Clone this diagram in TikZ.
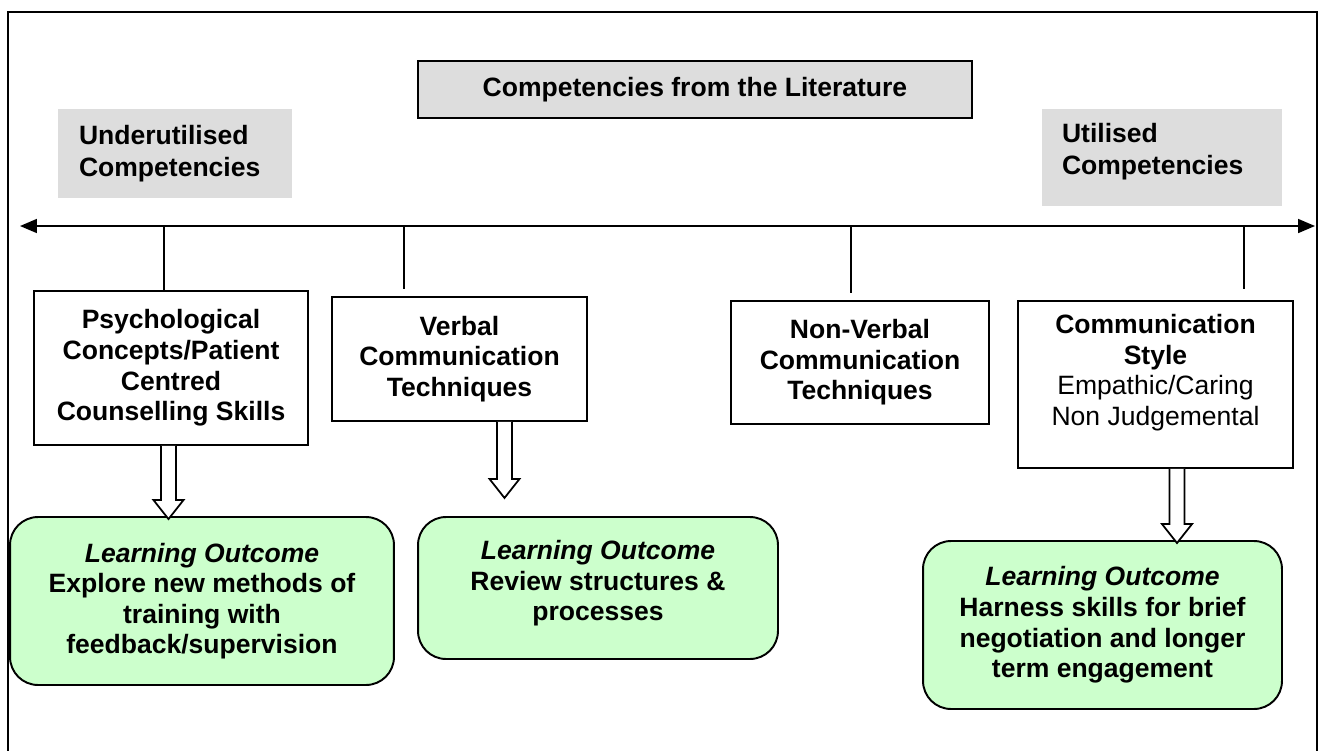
\documentclass[tikz,border=0pt]{standalone}
\usepackage{fontspec}
\setmainfont{Liberation Sans}
\usetikzlibrary{arrows.meta}
\usetikzlibrary{calc}
\definecolor{boxgrey}{HTML}{DDDDDD}
\definecolor{outcomegreen}{HTML}{CCFFCC}
\newcommand{\hollowarrow}[2]{%
  \draw[hollow] ($(#1)+(-7.5,0)$) -- ($(#2)+(-7.5,-19)$) -- ($(#2)+(-15,-19)$) -- (#2)
    -- ($(#2)+(15,-19)$) -- ($(#2)+(7.5,-19)$) -- ($(#1)+(7.5,0)$);}

\begin{document}
\begin{tikzpicture}[>={Triangle[length=0.34cm,width=0.28cm]}, x=0.02cm, y=-0.02cm,
    txt/.style={font=\fontsize{15.1}{17.4}\selectfont\bfseries, align=center, inner sep=0pt},
    compbox/.style={txt, draw, line width=1.1pt},
    greybox/.style={txt, font=\fontsize{15.1}{18.1}\selectfont\bfseries, fill=boxgrey, align=left},
    outcome/.style={txt, draw, line width=1.1pt, fill=outcomegreen, rounded corners=0.56cm},
    hollow/.style={draw, fill=white, line width=1pt}]
  \useasboundingbox (0,0) rectangle (1320,751);
  \draw[line width=0.9pt] (8,751) -- (8,12) -- (1317,12) -- (1317,751);

  \node[compbox, fill=boxgrey, minimum width=11.08cm, minimum height=1.14cm] (title) at (695,89.5) {Competencies from the Literature};
  \node[greybox, text width=3.84cm, inner xsep=0.42cm, minimum height=1.78cm] (under) at (175,153.5) {Underutilised\\Competencies};
  \node[greybox, text width=4cm, inner xsep=0.4cm, minimum height=1.94cm] (used) at (1162,157.5) {Utilised\\Competencies\\[-8pt]\mbox{}};

  \coordinate (axisL) at (20,226);
  \coordinate (axisR) at (1315,226);
  \draw[<->, line width=1pt] (axisL) -- (axisR);

  \node[compbox, minimum width=5.48cm, minimum height=3.08cm] (psych) at (171,368) {Psychological\\Concepts/Patient\\Centred\\Counselling Skills};
  \node[compbox, minimum width=5.10cm, minimum height=2.48cm] (verbal) at (459.5,359) {Verbal\\Communication\\Techniques};
  \node[compbox, minimum width=5.16cm, minimum height=2.46cm] (nonverbal) at (860,362.5) {Non-Verbal\\Communication\\Techniques};
  \node[compbox, minimum width=5.50cm, minimum height=3.34cm] (commstyle) at (1155.5,384.5) {Communication\\Style\\\textmd{Empathic/Caring}\\\textmd{Non Judgemental}\\[-0.6pt]\mbox{}};

  \foreach \n/\x/\y in {1/164/291, 2/404/289, 3/851/293, 4/1244/289}{
    \coordinate (tick\n) at (\x,226);
    \coordinate (tickend\n) at (\x,\y);
    \draw[line width=1pt] (tick\n) -- (tickend\n);
  }

  \node[outcome, minimum width=7.68cm, minimum height=3.36cm] (learn1) at (202,601) {\textit{Learning Outcome}\\Explore new methods of\\training with\\feedback/supervision};
  \node[outcome, minimum width=7.20cm, minimum height=2.84cm] (learn2) at (598,588) {\textit{Learning Outcome}\\Review structures \&\\processes\\[-9pt]\mbox{}};
  \node[outcome, minimum width=7.18cm, minimum height=3.36cm] (learn3) at (1102.5,625) {\textit{Learning Outcome}\\Harness skills for brief\\negotiation and longer\\term engagement};

  \coordinate (arr1s) at ($(psych.south)+(-2.5,0)$);
  \coordinate (arr1e) at ($(arr1s |- learn1.north)+(0,3)$);
  \coordinate (arr2s) at ($(verbal.south)+(45,0)$);
  \coordinate (arr2e) at ($(arr2s)+(0,76)$);
  \coordinate (arr3s) at ($(commstyle.south)+(21.5,0)$);
  \coordinate (arr3e) at ($(arr3s |- learn3.north)+(0,3)$);
  \hollowarrow{arr1s}{arr1e}
  \hollowarrow{arr2s}{arr2e}
  \hollowarrow{arr3s}{arr3e}
\end{tikzpicture}
\end{document}
